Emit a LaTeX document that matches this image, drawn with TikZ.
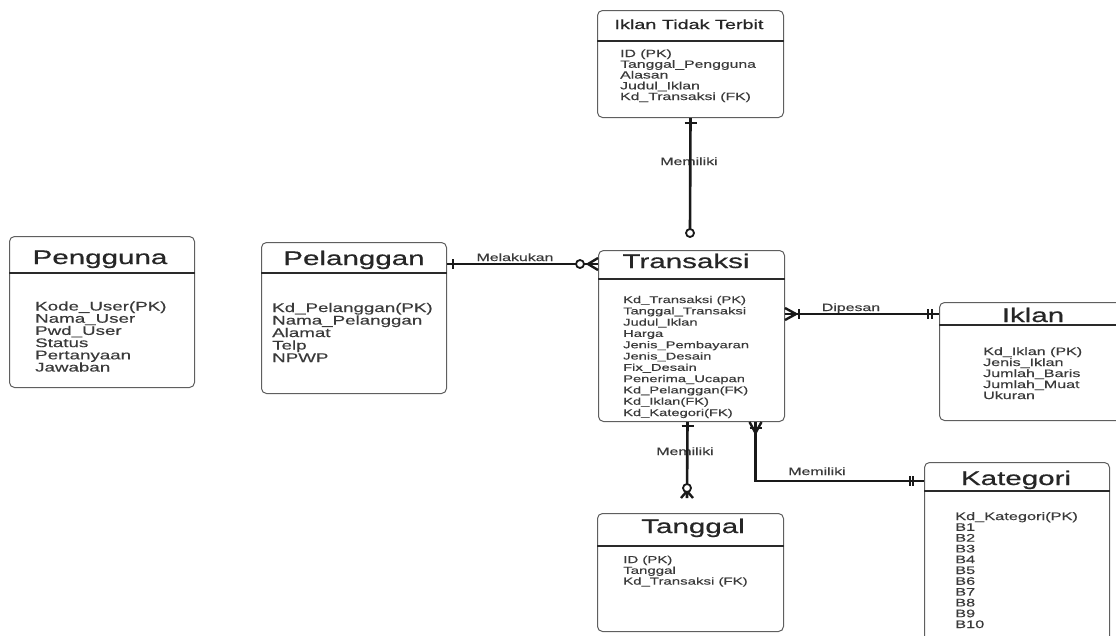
\documentclass[tikz,border=0pt]{standalone}
\usepackage{fontspec}
\setmainfont{Liberation Sans}[FakeStretch=1.5, FakeBold=0.35]
\newfontfamily\ttlfont{Liberation Sans}[FakeStretch=1.5, FakeBold=0.6]
\usetikzlibrary{calc}
\definecolor{txt}{HTML}{3A3A3A}
\definecolor{edge}{HTML}{2A2A2A}
\tikzset{
 ebox/.style={draw=edge!75, line width=1pt, rounded corners=5pt, inner sep=0pt, anchor=north west, fill=white},
 hline/.style={draw=edge, line width=2pt},
 etitle/.style={text=black!85, inner sep=0pt, anchor=base, font=\ttlfont\fontsize{19.7}{20}\selectfont},
 attr/.style={text=txt, inner sep=0pt, anchor=base west},
 lbl/.style={text=txt, inner sep=0pt, anchor=base, font=\fontsize{10.6}{11}\selectfont},
 conn/.style={draw=black!90, line width=2.6pt},
 sym/.style={draw=black!90, line width=2.4pt},
}
\newcommand\attrs[6]{\foreach \t [count=\i] in {#6} {\node[attr, font=\fontsize{#5}{#5}\selectfont] (#1-\i) at (#2, {#3+(\i-1)*#4}) {\t};}}
\begin{document}
\begin{tikzpicture}[x=1pt,y=-1pt]
\useasboundingbox (0,0) rectangle (1116,635);
\clip (0,0) rectangle (1116,635);
% boxes
\node[ebox, minimum width=186pt, minimum height=107pt] (itt) at (597,10) {};
\node[ebox, minimum width=185pt, minimum height=151pt] (pgu) at (9,236) {};
\node[ebox, minimum width=185pt, minimum height=151pt] (pel) at (261,242) {};
\node[ebox, minimum width=186pt, minimum height=171pt] (tra) at (598,250) {};
\node[ebox, minimum width=190pt, minimum height=118pt] (ikl) at (939,302) {};
\node[ebox, minimum width=185pt, minimum height=200pt] (kat) at (924,462) {};
\node[ebox, minimum width=186pt, minimum height=118pt] (tgl) at (597,513) {};
% header lines
\draw[hline] ([yshift=-31pt]itt.north west) -- ([yshift=-31pt]itt.north east);
\draw[hline] ([yshift=-37pt]pgu.north west) -- ([yshift=-37pt]pgu.north east);
\draw[hline] ([yshift=-31pt]pel.north west) -- ([yshift=-31pt]pel.north east);
\draw[hline] ([yshift=-29pt]tra.north west) -- ([yshift=-29pt]tra.north east);
\draw[hline] ([yshift=-23pt]ikl.north west) -- ([yshift=-23pt]ikl.north east);
\draw[hline] ([yshift=-29pt]kat.north west) -- ([yshift=-29pt]kat.north east);
\draw[hline] ([yshift=-33pt]tgl.north west) -- ([yshift=-33pt]tgl.north east);
% titles
\node[etitle, font=\ttlfont\fontsize{13.2}{14}\selectfont] (itt-t) at (689,29) {Iklan Tidak Terbit};
\node[etitle] (pgu-t) at (100,264) {Pengguna};
\node[etitle] (pel-t) at (354,265) {Pelanggan};
\node[etitle] (tra-t) at (686,268) {Transaksi};
\node[etitle] (ikl-t) at (1033,322) {Iklan};
\node[etitle] (kat-t) at (1016,485) {Kategori};
\node[etitle] (tgl-t) at (693,533) {Tanggal};
% attributes
\attrs{itta}{620}{57}{10.75}{10.5}{ID (PK), Tanggal\_Pengguna, Alasan, Judul\_Iklan, Kd\_Transaksi (FK)}
\attrs{pgua}{35}{310.5}{12.2}{12.5}{Kode\_User(PK), Nama\_User, Pwd\_User, Status, Pertanyaan, Jawaban}
\attrs{pela}{272}{312}{12.5}{12.5}{Kd\_Pelanggan(PK), Nama\_Pelanggan, Alamat, Telp, NPWP}
\attrs{traa}{623}{303}{11.3}{9.8}{Kd\_Transaksi (PK), Tanggal\_Transaksi, Judul\_Iklan, Harga, Jenis\_Pembayaran, Jenis\_Desain, Fix\_Desain, Penerima\_Ucapan, Kd\_Pelanggan(FK), Kd\_Iklan(FK), Kd\_Kategori(FK)}
\attrs{ikla}{983}{355}{11}{10.7}{Kd\_Iklan (PK), Jenis\_Iklan, Jumlah\_Baris, Jumlah\_Muat, Ukuran}
\attrs{kata}{955}{520}{10.8}{10.9}{Kd\_Kategori(PK), B1, B2, B3, B4, B5, B6, B7, B8, B9, B10}
\attrs{tgla}{623}{563}{10.8}{10}{ID (PK), Tanggal, Kd\_Transaksi (FK)}
% relationship labels
\node[lbl] (l-top) at (689,165) {Memiliki};
\node[lbl] (l-mel) at (515,261) {Melakukan};
\node[lbl] (l-dip) at (851,311) {Dipesan};
\node[lbl] (l-kat) at (817,475) {Memiliki};
\node[lbl] (l-tgl) at (685,455) {Memiliki};
% connector: Iklan Tidak Terbit - Transaksi
\coordinate (te) at (690,229);
\draw[conn] (itt.south) -- (te);
\draw[sym] ([xshift=-6pt,yshift=-5pt]itt.south) -- ([xshift=6pt,yshift=-5pt]itt.south);
\draw[sym, line width=1.8pt, fill=white] ([yshift=-4pt]te) circle (4pt);
% connector: Pelanggan - Transaksi (Melakukan)
\coordinate (m1) at ([yshift=-22pt]pel.north east);
\coordinate (m2) at ([yshift=-14pt]tra.north west);
\draw[conn] (m1) -- (m2);
\draw[sym] ([xshift=6pt,yshift=5pt]m1) -- ([xshift=6pt,yshift=-5pt]m1);
\draw[sym] ([xshift=-10pt]m2) -- ([yshift=6pt]m2) ([xshift=-10pt]m2) -- ([yshift=-6pt]m2);
\draw[sym, line width=1.8pt, fill=white] ([xshift=-18pt]m2) circle (4pt);
% connector: Transaksi - Iklan (Dipesan)
\coordinate (d1) at ([yshift=-64pt]tra.north east);
\coordinate (d2) at ([yshift=-12pt]ikl.north west);
\draw[conn] (d1) -- (d2);
\draw[sym] ([xshift=11pt]d1) -- ([yshift=6pt]d1) ([xshift=11pt]d1) -- ([yshift=-6pt]d1);
\draw[sym] ([xshift=14pt,yshift=5pt]d1) -- ([xshift=14pt,yshift=-5pt]d1);
\draw[sym] ([xshift=-7pt,yshift=5pt]d2) -- ([xshift=-7pt,yshift=-5pt]d2);
\draw[sym] ([xshift=-11pt,yshift=5pt]d2) -- ([xshift=-11pt,yshift=-5pt]d2);
% connector: Transaksi - Kategori (Memiliki)
\coordinate (k1) at ([xshift=64pt]tra.south);
\coordinate (k2) at ([yshift=-19pt]kat.north west);
\draw[conn] (k1) |- (k2);
\draw[sym] ([yshift=-11pt]k1) -- ([xshift=-6pt]k1) ([yshift=-11pt]k1) -- ([xshift=6pt]k1);
\draw[sym] ([xshift=-6pt,yshift=-6pt]k1) -- ([xshift=6pt,yshift=-6pt]k1);
\draw[sym] ([xshift=-11pt,yshift=5pt]k2) -- ([xshift=-11pt,yshift=-5pt]k2);
\draw[sym] ([xshift=-14pt,yshift=5pt]k2) -- ([xshift=-14pt,yshift=-5pt]k2);
% connector: Transaksi - Tanggal (Memiliki)
\coordinate (g1) at ([xshift=-4pt]tra.south);
\coordinate (ge) at (687,498);
\draw[conn] (g1) -- (ge);
\draw[sym] ([xshift=-6pt,yshift=-4pt]g1) -- ([xshift=6pt,yshift=-4pt]g1);
\draw[sym] ([yshift=7pt]ge) -- ([xshift=-6pt]ge) ([yshift=7pt]ge) -- ([xshift=6pt]ge);
\draw[sym, line width=1.8pt, fill=white] ([yshift=10pt]ge) circle (4pt);
\end{tikzpicture}
\end{document}
